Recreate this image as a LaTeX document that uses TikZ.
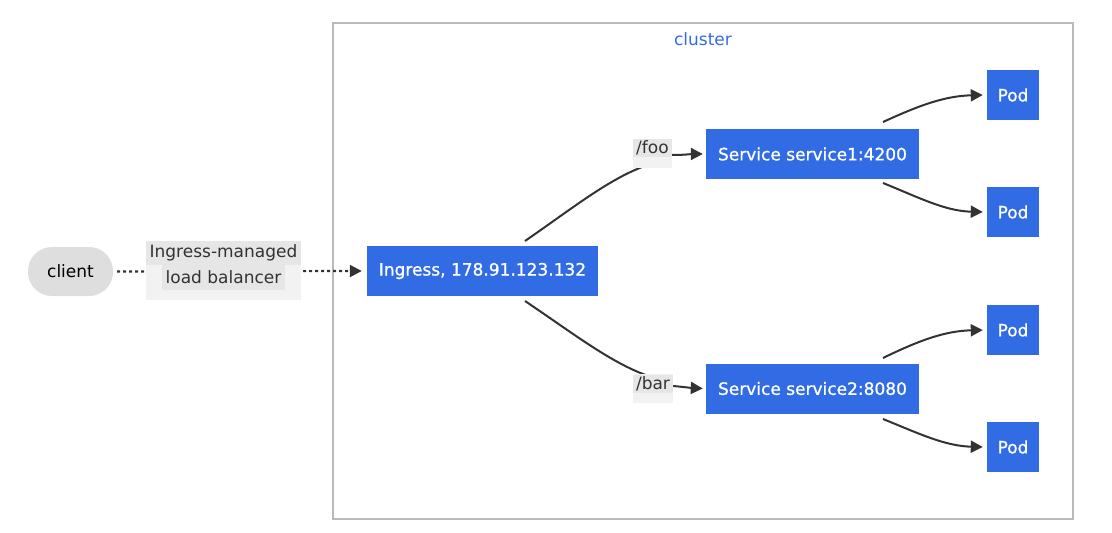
\documentclass[tikz,border=0pt]{standalone}
\usepackage{fontspec}
\setmainfont{DejaVu Sans}
\newfontfamily\boxfamily{DejaVu Sans}[FakeBold=1]
\usetikzlibrary{arrows.meta}
\definecolor{kblue}{HTML}{326CE5}
\definecolor{edgec}{HTML}{333333}
\definecolor{lblbg}{HTML}{F2F2F2}
\definecolor{lbltx}{HTML}{E6E6E6}
\newcommand{\dfont}{\fontsize{17}{20}\selectfont}
\tikzset{
  box/.style={fill=kblue, text=white, inner sep=0pt, font=\boxfamily\dfont},
  line/.style={draw=edgec, line width=2pt},
  edge/.style={line, -{Triangle[length=12pt,width=12pt]}},
  lbl/.style={fill=lbltx, text=edgec, inner sep=0pt, font=\dfont},
}
\begin{document}
\begin{tikzpicture}[x=1pt,y=-1pt]
\useasboundingbox (0,0) rectangle (1112,533);
% cluster
\draw[draw=black!27, line width=2pt] (333,23) rectangle (1073,519);
\node[text=kblue, font=\dfont] (clab) at (703,39) {cluster};
% nodes
\node[fill=black!13, rounded corners=24pt, minimum width=85pt, minimum height=49pt, inner sep=0pt, font=\dfont] (client) at (70.5,271.5) {client};
\node[box, minimum width=231pt, minimum height=50pt] (ing) at (482.5,271) {Ingress, 178.91.123.132};
\node[box, minimum width=213pt, minimum height=50pt] (s1) at (812.5,154) {Service service1:4200};
\node[box, minimum width=213pt, minimum height=50pt] (s2) at (812.5,388.5) {Service service2:8080};
\node[box, minimum width=52pt, minimum height=50pt] (p1) at (1013,95) {Pod};
\node[box, minimum width=52pt, minimum height=50pt] (p2) at (1013,212) {Pod};
\node[box, minimum width=52pt, minimum height=50pt] (p3) at (1013,330) {Pod};
\node[box, minimum width=52pt, minimum height=50pt] (p4) at (1013,447) {Pod};
% client -> ingress
\draw[edgec, line width=2.2pt, dash pattern=on 3pt off 3pt, -{Triangle[length=12pt,width=12pt]}] (client.east) ++(4,0) coordinate (c0) -- ([xshift=-5pt]ing.west);
\fill[lblbg] (146,241) rectangle (301,300);
\node[lbl, minimum width=155pt, minimum height=24pt] (l1) at (223.5,253) {Ingress-managed};
\node[lbl, minimum width=123pt, minimum height=25pt] (l2) at (223.5,277.5) {load balancer};
% ingress -> services
\coordinate (i1) at (525,241);
\coordinate (i2) at (525,301);
\coordinate (f0) at (662,161);
\coordinate (b0) at (662,380);
\draw[line] (i1) .. controls (580,203) and (620,170) .. (f0);
\draw[line] (i2) .. controls (580,338) and (620,370) .. (b0);
\fill[lblbg] (633,139) rectangle (672,168);
\node[lbl, minimum width=39pt, minimum height=18pt] (foo) at (652.5,148) {/foo};
\fill[lblbg] (633,374) rectangle (673,403);
\node[lbl, minimum width=40pt, minimum height=18pt] (bar) at (653,384) {/bar};
\draw[edge] ([yshift=-7pt]foo.east) .. controls (684,155) and (692,154) .. ([xshift=-3pt]s1.west);
\draw[edge] ([yshift=-2pt]bar.east) .. controls (684,387) and (692,388) .. ([xshift=-3pt]s2.west);
% services -> pods
\draw[edge] (883,122) .. controls (920,105) and (945,96) .. ([xshift=-4pt]p1.west);
\draw[edge] (883,183) .. controls (920,198) and (945,211) .. ([xshift=-4pt]p2.west);
\draw[edge] (883,358) .. controls (920,340) and (945,331) .. ([xshift=-4pt]p3.west);
\draw[edge] (883,419) .. controls (920,434) and (945,446) .. ([xshift=-4pt]p4.west);
\end{tikzpicture}
\end{document}
